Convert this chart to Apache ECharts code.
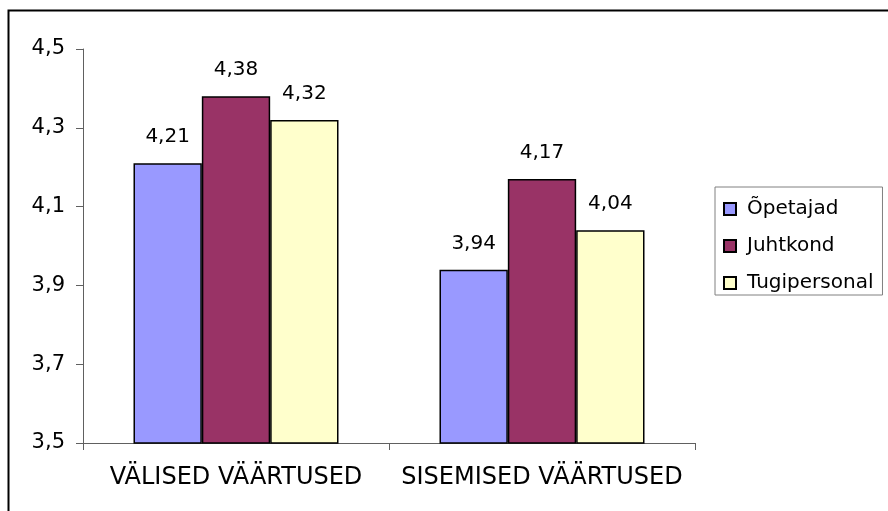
<!DOCTYPE html>
<html>
<head>
<meta charset="utf-8">
<script src="https://cdn.jsdelivr.net/npm/echarts@6/dist/echarts.min.js"></script>
<style>html,body{margin:0;padding:0;background:#fff;}#c{width:888px;height:511px;}</style>
</head>
<body>
<div id="c"></div>
<script>
const categories = ['VÄLISED VÄÄRTUSED', 'SISEMISED VÄÄRTUSED'];
const seriesNames = ['Õpetajad', 'Juhtkond', 'Tugipersonal'];
const opetajad = [4.21, 3.94];
const juhtkond = [4.38, 4.17];
const tugipersonal = [4.32, 4.04];
const colors = ['#9999FF', '#993366', '#FFFFCC'];
const yMin = 3.5, yMax = 4.5, yStep = 0.2;

const font = 'DejaVu Sans';
const fmt = v => String(v).replace('.', ',');
const values = [opetajad, juhtkond, tugipersonal];

const chart = echarts.init(document.getElementById('c'));
chart.setOption({
  animation: false,
  textStyle: { fontFamily: font },
  graphic: [{
    type: 'rect', left: 6, top: 8, shape: { width: 900, height: 600 },
    style: { fill: 'none', stroke: '#000', lineWidth: 2 }, silent: true
  }],
  grid: { left: 83, right: 193, top: 49, bottom: 68, containLabel: false },
  legend: {
    orient: 'vertical', left: 715, top: 187,
    padding: [12, 9, 2, 8],
    borderColor: '#808080', borderWidth: 1,
    itemWidth: 12, itemHeight: 12, itemGap: 17,
    icon: 'rect',
    textStyle: { fontFamily: font, fontSize: 20, color: '#000', lineHeight: 20, padding: [0, 0, 0, 6] },
    data: seriesNames
  },
  xAxis: {
    type: 'category', data: categories,
    axisLine: { lineStyle: { color: '#606060', width: 1 } },
    axisTick: { show: true, length: 7, lineStyle: { color: '#606060' } },
    axisLabel: { interval: 0, hideOverlap: false, fontFamily: font, fontSize: 24, color: '#000', margin: 23 }
  },
  yAxis: {
    type: 'value', min: yMin, max: yMax, interval: yStep,
    splitLine: { show: false },
    axisLine: { show: true, lineStyle: { color: '#606060', width: 1 } },
    axisTick: { show: true, length: 7, lineStyle: { color: '#606060' } },
    axisLabel: { fontFamily: font, fontSize: 21, color: '#000', margin: 18, formatter: v => fmt(Math.round(v * 10) / 10) }
  },
  series: seriesNames.map((n, i) => ({
    name: n, type: 'bar', data: values[i],
    barGap: '0%', barCategoryGap: '33%',
    itemStyle: { color: colors[i], borderColor: '#000', borderWidth: 1.5 },
    label: {
      show: true, position: 'top', distance: 16,
      fontFamily: font, fontSize: 20, color: '#000',
      formatter: p => fmt(p.value)
    }
  }))
});
</script>
</body>
</html>
